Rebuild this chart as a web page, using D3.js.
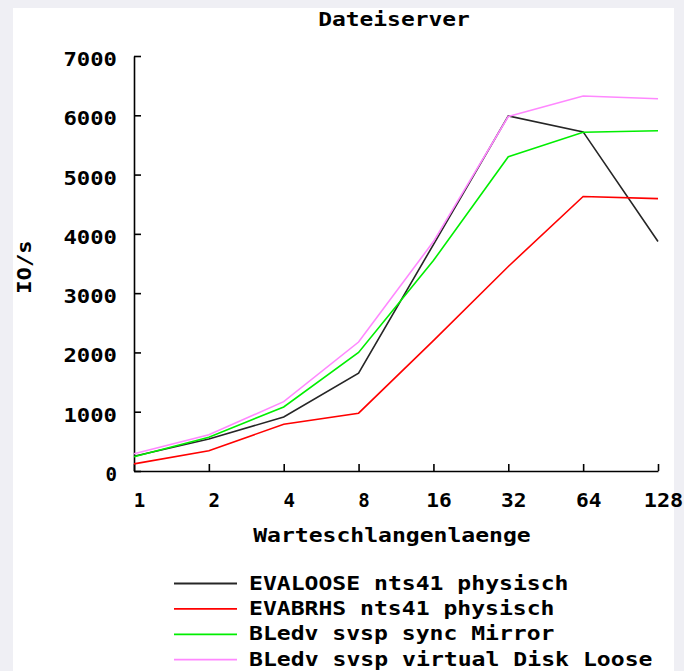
<!DOCTYPE html>
<html>
<head>
<meta charset="utf-8">
<script src="https://cdn.jsdelivr.net/npm/d3@7"></script>
<style>
  body { margin: 0; background: #efeff4; }
  svg { display: block; }
  text { font-family: "DejaVu Sans Mono", "Liberation Mono", monospace; font-weight: bold; font-size: 19px; fill: #000; }
</style>
</head>
<body>
<svg id="chart"></svg>
<script>
// chart data
const queueDepths = [1, 2, 4, 8, 16, 32, 64, 128];
const evaloose = [250, 540, 910, 1650, 3820, 5990, 5720, 3870];
const evabrhs = [120, 340, 790, 975, 2200, 3450, 4630, 4595];
const syncMirror = [240, 570, 1080, 2000, 3550, 5300, 5715, 5740];
const virtualDiskLoose = [290, 610, 1170, 2175, 3870, 5980, 6325, 6280];
const yTicks = [0, 1000, 2000, 3000, 4000, 5000, 6000, 7000];

const seriesNames = ["EVALOOSE nts41 physisch", "EVABRHS nts41 physisch", "BLedv svsp sync Mirror", "BLedv svsp virtual Disk Loose"];
const seriesColors = ["#262626", "#ff0000", "#00ee00", "#ff88ff"];
const seriesValues = [evaloose, evabrhs, syncMirror, virtualDiskLoose];

const width = 684;
const height = 671;
const charW = 14;

const svg = d3.select("#chart")
  .attr("width", width)
  .attr("height", height);

// white plot card
svg.append("rect")
  .attr("x", 13).attr("y", 8)
  .attr("width", 661).attr("height", height - 8)
  .attr("fill", "#fff");

const x = d3.scaleLog().base(2)
  .domain([1, 128])
  .range([134, 658]);

const y = d3.scaleLinear()
  .domain([0, 7000])
  .range([471, 56]);

// stretch the mono font so it looks like the wide bitmap font
function widen(sel){
  sel.each(function(){
    const t = d3.select(this);
    const n = t.text().length;
    t.attr("textLength", n * charW - 2.5).attr("lengthAdjust", "spacingAndGlyphs");
  });
}

// title
svg.append("text")
  .attr("x", 394).attr("y", 26)
  .attr("text-anchor", "middle")
  .text("Dateiserver")
  .call(widen);

// axes
const xAxis = d3.axisBottom(x)
  .tickValues(queueDepths)
  .tickFormat(d3.format("d"))
  .tickSizeInner(-7)
  .tickSizeOuter(0);

const yAxis = d3.axisLeft(y)
  .tickValues(yTicks)
  .tickFormat(d3.format("d"))
  .tickSizeInner(-7)
  .tickSizeOuter(0)
  .tickPadding(17);

const gx = svg.append("g")
  .attr("transform", `translate(0,${y(0)})`)
  .call(xAxis);

const gy = svg.append("g")
  .attr("transform", `translate(${x(1)},0)`)
  .call(yAxis);

[gx, gy].forEach(g => {
  g.attr("font-family", null).attr("font-size", null);
  g.selectAll("path, line").attr("stroke", "#000").attr("stroke-width", 1.6);
});

gx.selectAll("text")
  .attr("x", 5).attr("y", 36).attr("dy", null)
  .call(widen);

gy.selectAll("text")
  .attr("dy", null).attr("y", 9.5)
  .call(widen);

// axis titles
svg.append("text")
  .attr("x", 392).attr("y", 542)
  .attr("text-anchor", "middle")
  .text("Warteschlangenlaenge")
  .call(widen);

svg.append("text")
  .attr("transform", "translate(31,267) rotate(-90)")
  .attr("text-anchor", "middle")
  .text("IO/s")
  .call(widen);

// lines
const line = d3.line()
  .x((d, i) => x(queueDepths[i]))
  .y(d => y(d));

svg.append("g")
  .selectAll("path")
  .data(seriesValues)
  .join("path")
  .attr("fill", "none")
  .attr("stroke", (d, i) => seriesColors[i])
  .attr("stroke-width", 1.6)
  .attr("d", line);

// legend
const legend = svg.append("g")
  .selectAll("g")
  .data(seriesNames)
  .join("g")
  .attr("transform", (d, i) => `translate(0,${583.5 + i * 25.4})`);

legend.append("line")
  .attr("x1", 174).attr("x2", 237)
  .attr("stroke", (d, i) => seriesColors[i])
  .attr("stroke-width", 1.8);

legend.append("text")
  .attr("x", 249).attr("y", 6)
  .text(d => d)
  .call(widen);
</script>
</body>
</html>
